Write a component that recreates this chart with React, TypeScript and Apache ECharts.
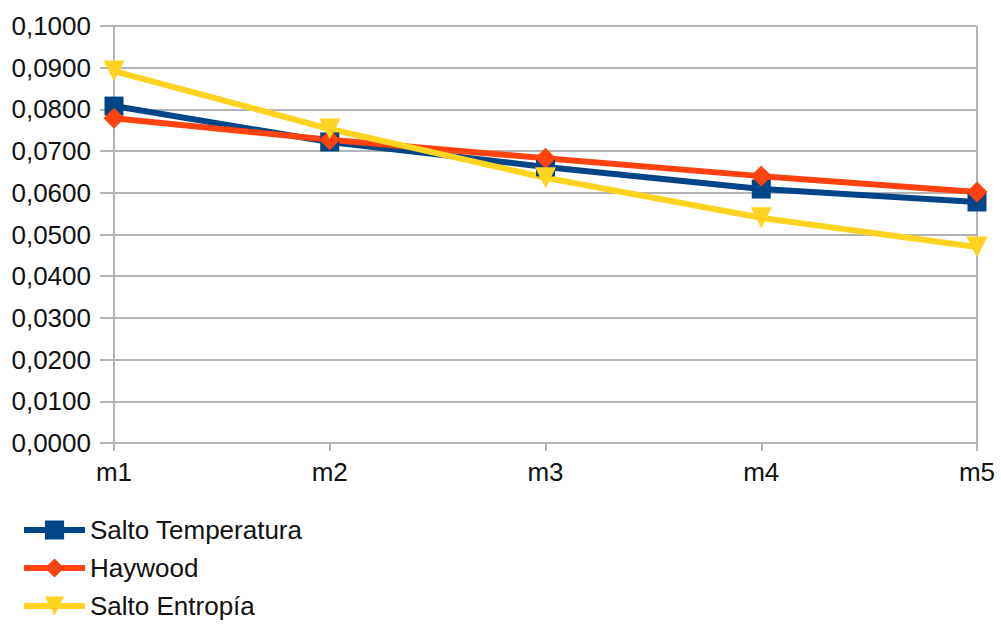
import React, { useEffect, useRef } from "react";
import * as echarts from "echarts";

const categories = ["m1", "m2", "m3", "m4", "m5"];
const saltoTemperatura = [0.0808, 0.0722, 0.0662, 0.0609, 0.0578];
const haywood = [0.0779, 0.0727, 0.0683, 0.064, 0.0602];
const saltoEntropia = [0.0892, 0.0753, 0.0636, 0.054, 0.047];

const FONT = "'Liberation Sans', Arial, sans-serif";
const GRID_COLOR = "#b3b3b3";

export default function App() {
  const ref = useRef<HTMLDivElement>(null);

  useEffect(() => {
    if (!ref.current) return;
    const chart = echarts.init(ref.current, null, { renderer: "svg" });
    const lineSeries = (name: string, data: number[], color: string, symbol: string, size: number, rotate = 0) => ({
      name,
      type: "line",
      data,
      symbol,
      symbolSize: size,
      symbolRotate: rotate,
      showAllSymbol: true,
      lineStyle: { color, width: 6 },
      itemStyle: { color },
      emphasis: { disabled: true },
    });
    chart.setOption({
      animation: false,
      backgroundColor: "#ffffff",
      textStyle: { fontFamily: FONT },
      grid: { left: 114, right: 24, top: 26, bottom: 183, containLabel: false },
      legend: {
        orient: "vertical",
        left: 21,
        top: 517,
        padding: 0,
        itemWidth: 61,
        itemHeight: 24,
        itemGap: 12,
        lineStyle: { width: 6 },
        textStyle: { fontFamily: FONT, fontSize: 26, lineHeight: 26, color: "#111" },
        data: ["Salto Temperatura", "Haywood", "Salto Entropía"],
      },
      xAxis: {
        type: "category",
        data: categories,
        boundaryGap: false,
        axisLine: { show: true, lineStyle: { color: GRID_COLOR, width: 2 } },
        axisTick: { show: true, length: 8, lineStyle: { color: GRID_COLOR, width: 2 } },
        axisLabel: { fontFamily: FONT, fontSize: 26, color: "#111", margin: 16 },
        splitLine: {
          show: true,
          interval: (index: number) => index === 0 || index === categories.length - 1,
          lineStyle: { color: GRID_COLOR, width: 2 },
        },
      },
      yAxis: {
        type: "value",
        min: 0,
        max: 0.1,
        interval: 0.01,
        axisLine: { show: false },
        axisTick: { show: true, length: 14, lineStyle: { color: GRID_COLOR, width: 2 } },
        axisLabel: {
          fontFamily: FONT,
          fontSize: 26,
          color: "#111",
          margin: 23,
          formatter: (v: number) => v.toFixed(4).replace(".", ","),
        },
        splitLine: { show: true, lineStyle: { color: GRID_COLOR, width: 2 } },
      },
      series: [
        lineSeries("Salto Temperatura", saltoTemperatura, "#004586", "rect", 19),
        lineSeries("Haywood", haywood, "#ff420e", "diamond", 21),
        lineSeries("Salto Entropía", saltoEntropia, "#ffd320", "triangle", 21, 180),
      ],
    });
    return () => chart.dispose();
  }, []);

  return <div ref={ref} style={{ width: 1001, height: 626, position: "absolute", left: 0, top: 0 }} />;
}
